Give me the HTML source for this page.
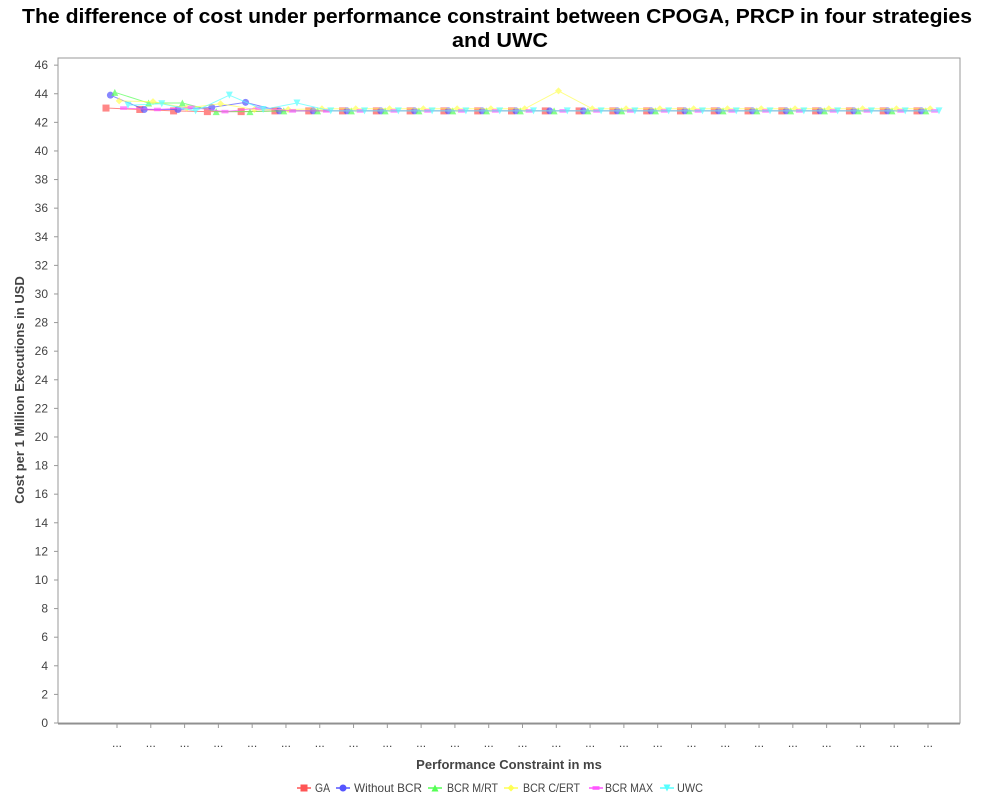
<!DOCTYPE html>
<html><head><meta charset="utf-8"><style>
body{margin:0;background:#fff;font-family:"Liberation Sans",sans-serif}
svg text{font-family:"Liberation Sans","DejaVu Sans",sans-serif}
</style></head><body>
<svg id="c" width="1000" height="800" xmlns="http://www.w3.org/2000/svg">
<text x="497" y="23" text-anchor="middle" font-size="20" font-weight="bold" textLength="950" lengthAdjust="spacingAndGlyphs">The difference of cost under performance constraint between CPOGA, PRCP in  four strategies</text>
<text x="500" y="47" text-anchor="middle" font-size="20" font-weight="bold" textLength="96" lengthAdjust="spacingAndGlyphs">and UWC</text>
<rect x="58" y="58" width="902" height="665" fill="#fff" stroke="#999" stroke-width="1"/>
<g id="grid"></g><g id="axes"></g><g id="series"></g>
<text x="0" y="0" transform="translate(24,390) rotate(-90)" text-anchor="middle" font-size="13" font-weight="bold" fill="#444">Cost per 1 Million Executions in USD</text>
<text x="509" y="769" text-anchor="middle" font-size="13" font-weight="bold" fill="#444">Performance Constraint in ms</text>
<g id="legend"></g>
</svg>
<script>
const categories = Array.from({length:25},(_,i)=>'...');
const seriesNames = ['GA','Without BCR','BCR M/RT','BCR C/ERT','BCR MAX','UWC'];
const gaValues   = [43.0,42.9,42.8,42.75,42.75,42.8,42.8,42.8,42.8,42.8,42.8,42.8,42.8,42.8,42.8,42.8,42.8,42.8,42.8,42.8,42.8,42.8,42.8,42.8,42.8];
const wbcrValues = [43.9,42.9,42.9,43.05,43.4,42.8,42.8,42.8,42.8,42.8,42.8,42.8,42.8,42.8,42.8,42.8,42.8,42.8,42.8,42.8,42.8,42.8,42.8,42.8,42.8];
const mrtValues  = [44.1,43.35,43.35,42.75,42.75,42.8,42.8,42.8,42.8,42.8,42.8,42.8,42.8,42.8,42.8,42.8,42.8,42.8,42.8,42.8,42.8,42.8,42.8,42.8,42.8];
const certValues = [43.5,43.45,43.0,43.3,42.9,42.9,42.95,42.95,42.95,42.95,42.95,42.95,42.95,44.2,42.95,42.95,42.95,42.95,42.95,42.95,42.95,42.95,42.95,42.95,42.95];
const maxValues  = [43.0,42.9,43.05,42.75,43.0,42.8,42.8,42.8,42.8,42.8,42.8,42.8,42.8,42.8,42.8,42.8,42.8,42.8,42.8,42.8,42.8,42.8,42.8,42.8,42.8];
const uwcValues  = [43.2,43.3,42.8,43.9,42.9,43.35,42.8,42.8,42.8,42.8,42.8,42.8,42.8,42.8,42.8,42.8,42.8,42.8,42.8,42.8,42.8,42.8,42.8,42.8,42.8];
const yTicks = [0,2,4,6,8,10,12,14,16,18,20,22,24,26,28,30,32,34,36,38,40,42,44,46];
const allSeries=[gaValues,wbcrValues,mrtValues,certValues,maxValues,uwcValues];
const colors=['#ff5555','#5555ff','#55ff55','#ffff55','#ff55ff','#55ffff'];
const NS='http://www.w3.org/2000/svg';
const plotL=58,plotR=960,plotTop=58,plotB=723,yMax=46.5;
const y=v=>plotB-v/yMax*(plotB-plotTop);
const x0=117,step=(928-117)/24;
const x=(i,s)=>x0+i*step+(s-2.5)*4.4;
function mk(tag,attrs,parent){const e=document.createElementNS(NS,tag);for(const k in attrs)e.setAttribute(k,attrs[k]);parent.appendChild(e);return e;}
const axes=document.getElementById('axes');
yTicks.forEach(t=>{
 const g=mk('g',{},axes);
 
 
 mk('line',{x1:54,x2:58,y1:y(t),y2:y(t),stroke:'#999'},g);
 const tx=mk('text',{x:48,y:y(t)+4,'text-anchor':'end','font-size':12,fill:'#444'},g);tx.textContent=t;
});
mk('line',{x1:58,x2:960,y1:724,y2:724,stroke:'#888'},axes);
categories.forEach((c,i)=>{
 const g=mk('g',{},axes);
 
 
 const cx=x0+i*step;
 mk('line',{x1:cx,x2:cx,y1:724,y2:728,stroke:'#999'},g);
 const tx=mk('text',{x:cx,y:747,'text-anchor':'middle','font-size':12,fill:'#444'},g);tx.textContent=c;
});
function shape(s,cx,cy,g,col){
 const r=3.5;let e;
 if(s==0)e=mk('rect',{x:cx-r,y:cy-r,width:2*r,height:2*r},g);
 else if(s==1)e=mk('circle',{cx:cx,cy:cy,r:r},g);
 else if(s==2)e=mk('polygon',{points:`${cx},${cy-r} ${cx+r},${cy+r} ${cx-r},${cy+r}`},g);
 else if(s==3)e=mk('polygon',{points:`${cx},${cy-r} ${cx+r},${cy} ${cx},${cy+r} ${cx-r},${cy}`},g);
 else if(s==4)e=mk('rect',{x:cx-r,y:cy-r/2,width:2*r,height:r},g);
 else e=mk('polygon',{points:`${cx-r},${cy-r} ${cx+r},${cy-r} ${cx},${cy+r}`},g);
 e.setAttribute('fill',col);
 return e;
}
const sg=document.getElementById('series');
allSeries.forEach((vals,s)=>{
 const g=mk('g',{opacity:0.7},sg);
 
 
 mk('polyline',{points:vals.map((v,i)=>x(i,s)+','+y(v)).join(' '),fill:'none',stroke:colors[s],'stroke-width':1},g);
 vals.forEach((v,i)=>{const p=shape(s,x(i,s),y(v),g,colors[s]);
  
  });
});
const lg=document.getElementById('legend');
const lx=[297,336,428,504,589,660];
const tx0=[315,354,447,523,605,677];
const tw=[15,68,51,57,48,26];
seriesNames.forEach((n,s)=>{
 const g=mk('g',{},lg);
 
 
 mk('line',{x1:lx[s],x2:lx[s]+14,y1:788,y2:788,stroke:colors[s],'stroke-width':1.5},g);
 shape(s,lx[s]+7,788,g,colors[s]);
 const t=mk('text',{x:tx0[s],y:792,'font-size':12,fill:'#444',textLength:tw[s],lengthAdjust:'spacingAndGlyphs'},g);t.textContent=n;
});
</script>
</body></html>
